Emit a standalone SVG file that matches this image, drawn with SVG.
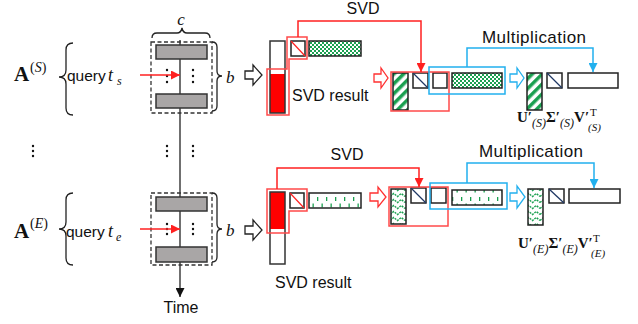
<svg xmlns="http://www.w3.org/2000/svg" width="638" height="324" viewBox="0 0 638 324">
<defs>
<style>
.sans{font-family:"Liberation Sans",Arial,sans-serif;fill:#111}
.serif{font-family:"Liberation Serif","Times New Roman",serif;fill:#111}
.box{fill:#fff;stroke:#222;stroke-width:1.5}
.gray{fill:#a9a6a6;stroke:#333;stroke-width:1.5}
.redl{fill:none;stroke:#ff4a4a;stroke-width:1.5}
.bluel{fill:none;stroke:#22b0ee;stroke-width:1.5}
.redc{fill:none;stroke:#ff2020;stroke-width:1.5}
.bluec{fill:none;stroke:#22b0ee;stroke-width:1.5}
.blk{fill:none;stroke:#222;stroke-width:1.3}
.dot{fill:#111}
.sub{font-size:12px;font-style:italic}
.b{font-weight:bold}
</style>
<pattern id="checker" width="4" height="4" patternUnits="userSpaceOnUse">
<rect width="4" height="4" fill="#fff"/>
<rect width="2" height="2" fill="#1aa050"/>
<rect x="2" y="2" width="2" height="2" fill="#1aa050"/>
</pattern>
<pattern id="stripes" width="7" height="7" patternUnits="userSpaceOnUse" patternTransform="rotate(45)">
<rect width="7" height="7" fill="#fff"/>
<rect width="3.5" height="7" fill="#1aa050"/>
</pattern>
<pattern id="wavy" width="15" height="6" patternUnits="userSpaceOnUse">
<rect width="15" height="6" fill="#fff"/>
<path d="M0,4.5 L3.75,1.5 L7.5,4.5 L11.25,1.5 L15,4.5" fill="none" stroke="#1aa050" stroke-width="1.4" stroke-dasharray="2,1"/>
</pattern>
<pattern id="dashes" width="9" height="15" patternUnits="userSpaceOnUse">
<rect width="9" height="15" fill="#fff"/>
<rect x="2" y="2" width="1.3" height="4" fill="#1aa050"/>
<rect x="6.5" y="8.5" width="1.3" height="4" fill="#1aa050"/>
</pattern>
<marker id="ah" viewBox="0 0 10 10" refX="10" refY="5" markerWidth="9" markerHeight="9" markerUnits="userSpaceOnUse" orient="auto">
<path d="M0,0 L10,5 L0,10 Z" fill="#111"/>
</marker>
<marker id="ahr" viewBox="0 0 10 10" refX="10" refY="5" markerWidth="9" markerHeight="9" markerUnits="userSpaceOnUse" orient="auto">
<path d="M0,0 L10,5 L0,10 Z" fill="#ff2020"/>
</marker>
<marker id="ahb" viewBox="0 0 10 10" refX="10" refY="5" markerWidth="9" markerHeight="9" markerUnits="userSpaceOnUse" orient="auto">
<path d="M0,0 L10,5 L0,10 Z" fill="#22b0ee"/>
</marker>
</defs>

<!-- time axis -->
<g id="timeline">
<line x1="180" y1="40" x2="180" y2="297" stroke="#222" stroke-width="1.3" marker-end="url(#ah)"/>
<text class="sans" x="181" y="313" font-size="16" text-anchor="middle">Time</text>
</g>

<!-- top window -->
<g id="windowS">
<path class="blk" d="M152,38 Q152,33 157,33 H177 Q181,33 182,28 Q183,33 187,33 H205 Q210,33 210,38"/>
<text class="serif" x="181" y="25" font-size="17" font-style="italic" text-anchor="middle">c</text>
<rect class="gray" x="156" y="45" width="51" height="14"/>
<rect class="gray" x="156" y="94" width="51" height="14"/>
<rect x="151" y="42" width="61" height="71" fill="none" stroke="#333" stroke-width="1.3" stroke-dasharray="4,2.5"/>
<path class="blk" d="M212,42 Q217,42 217,47 V71 Q217,76 222,76 Q217,76 217,81 V106 Q217,111 212,111"/>
<text class="serif" x="226" y="83" font-size="17" font-style="italic">b</text>
<circle class="dot" cx="167" cy="70" r="1.2"/><circle class="dot" cx="167" cy="76" r="1.2"/><circle class="dot" cx="167" cy="82" r="1.2"/>
<circle class="dot" cx="193" cy="70" r="1.2"/><circle class="dot" cx="193" cy="76" r="1.2"/><circle class="dot" cx="193" cy="82" r="1.2"/>
</g>

<!-- middle dots -->
<g id="ellipsis">
<circle class="dot" cx="33" cy="146" r="1.2"/><circle class="dot" cx="33" cy="151" r="1.2"/><circle class="dot" cx="33" cy="156" r="1.2"/>
<circle class="dot" cx="167" cy="146" r="1.2"/><circle class="dot" cx="167" cy="151" r="1.2"/><circle class="dot" cx="167" cy="156" r="1.2"/>
<circle class="dot" cx="193" cy="146" r="1.2"/><circle class="dot" cx="193" cy="151" r="1.2"/><circle class="dot" cx="193" cy="156" r="1.2"/>
</g>

<!-- bottom window -->
<g id="windowE">
<rect class="gray" x="156" y="197" width="51" height="14"/>
<rect class="gray" x="156" y="247" width="51" height="15"/>
<rect x="151" y="193" width="61" height="72" fill="none" stroke="#333" stroke-width="1.3" stroke-dasharray="4,2.5"/>
<path class="blk" d="M212,193 Q217,193 217,198 V224 Q217,229 222,229 Q217,229 217,234 V257 Q217,262 212,262"/>
<text class="serif" x="226" y="236" font-size="17" font-style="italic">b</text>
<circle class="dot" cx="167" cy="224" r="1.2"/><circle class="dot" cx="167" cy="229" r="1.2"/><circle class="dot" cx="167" cy="234" r="1.2"/>
<circle class="dot" cx="193" cy="224" r="1.2"/><circle class="dot" cx="193" cy="229" r="1.2"/><circle class="dot" cx="193" cy="234" r="1.2"/>
</g>

<!-- query labels -->
<g id="labelS">
<text class="serif" x="14" y="81" font-size="21" font-weight="bold">A</text>
<text class="serif" x="30" y="72" font-size="14">(<tspan font-style="italic">S</tspan>)</text>
<path class="blk" d="M73,43 Q66,43 66,50 V70 Q66,77 59,77 Q66,77 66,84 V108 Q66,115 73,115"/>
<text class="sans" x="67" y="81" font-size="15.5">query</text>
<text class="serif" x="108" y="81" font-size="18" font-style="italic">t</text>
<text class="serif" x="117" y="85" font-size="12" font-style="italic">s</text>
</g>
<g id="labelE">
<text class="serif" x="14" y="238" font-size="21" font-weight="bold">A</text>
<text class="serif" x="30" y="228" font-size="14">(<tspan font-style="italic">E</tspan>)</text>
<path class="blk" d="M73,193 Q66,193 66,200 V222 Q66,229 59,229 Q66,229 66,236 V258 Q66,265 73,265"/>
<text class="sans" x="66" y="237" font-size="15.5">query</text>
<text class="serif" x="108" y="237" font-size="18" font-style="italic">t</text>
<text class="serif" x="116" y="241" font-size="12" font-style="italic">e</text>
</g>

<!-- SVD result top -->
<g id="svdS">
<rect x="270" y="74" width="15" height="39" fill="#ff0000"/>
<rect x="270" y="41" width="15" height="72" fill="none" stroke="#333" stroke-width="1.5"/>
<rect class="box" x="291" y="41" width="14" height="15"/>
<line x1="291" y1="41" x2="305" y2="56" stroke="#ff2020" stroke-width="1.2"/>
<rect x="309" y="41" width="52" height="15" fill="url(#checker)" stroke="#222" stroke-width="1.5"/>
<polygon class="redl" points="267,69 287,69 287,37 307,37 307,59 289,59 289,115 267,115"/>
<text class="sans" x="292" y="101" font-size="16">SVD result</text>
</g>

<!-- SVD result bottom -->
<g id="svdE">
<rect x="270" y="192" width="15" height="37" fill="#ff0000"/>
<rect x="270" y="192" width="15" height="72" fill="none" stroke="#333" stroke-width="1.5"/>
<rect class="box" x="290" y="193" width="14" height="15"/>
<line x1="290" y1="193" x2="304" y2="208" stroke="#ff2020" stroke-width="1.2"/>
<rect x="309" y="193" width="52" height="15" fill="url(#dashes)" stroke="#222" stroke-width="1.5"/>
<polygon class="redl" points="267,189 307,189 307,211 289,211 289,233 267,233"/>
<text class="sans" x="275" y="288" font-size="16">SVD result</text>
</g>

<!-- block arrows -->
<g id="arrows">
<path d="M245,71 H253 V65 L262,75 L253,85 V79 H245 Z" fill="#fff" stroke="#222" stroke-width="1.3"/>
<path d="M245,226 H253 V220 L262,230 L253,240 V234 H245 Z" fill="#fff" stroke="#222" stroke-width="1.3"/>
<path d="M374,74 H381 V68 L388,78 L381,88 V82 H374 Z" fill="#fff" stroke="#ff3030" stroke-width="1.3"/>
<path d="M370,193 H378 V187 L386,197 L378,207 V201 H370 Z" fill="#fff" stroke="#ff3030" stroke-width="1.3"/>
<path d="M510,74 H517 V68 L524,78 L517,88 V82 H510 Z" fill="#fff" stroke="#22b0ee" stroke-width="1.3"/>
<path d="M510,193 H517 V186 L525,197 L517,208 V201 H510 Z" fill="#fff" stroke="#22b0ee" stroke-width="1.3"/>
</g>

<!-- decomposition top -->
<g id="decompS">
<rect x="393" y="73" width="15" height="37" fill="url(#stripes)" stroke="#222" stroke-width="1.5"/>
<rect class="box" x="413" y="73" width="15" height="15"/>
<line x1="413" y1="73" x2="428" y2="88" stroke="#1f3864" stroke-width="1.3"/>
<rect class="box" x="433" y="73" width="14" height="15"/>
<rect x="452" y="73" width="50" height="15" fill="url(#checker)" stroke="#222" stroke-width="1.5"/>
<rect class="redl" x="391" y="72" width="58" height="39"/>
<rect class="bluel" x="429" y="67" width="76" height="27"/>
</g>

<!-- decomposition bottom -->
<g id="decompE">
<rect x="391" y="189" width="15" height="35" fill="url(#wavy)" stroke="#222" stroke-width="1.5"/>
<rect class="box" x="411" y="188" width="15" height="15"/>
<line x1="411" y1="188" x2="426" y2="203" stroke="#1f3864" stroke-width="1.3"/>
<rect class="box" x="431" y="188" width="15" height="15"/>
<rect x="452" y="190" width="50" height="15" fill="url(#dashes)" stroke="#222" stroke-width="1.5"/>
<rect class="redl" x="389" y="187" width="59" height="39"/>
<rect class="bluel" x="430" y="183" width="77" height="26"/>
</g>

<!-- result top -->
<g id="resultS">
<rect x="527" y="73" width="15" height="37" fill="url(#stripes)" stroke="#222" stroke-width="1.5"/>
<rect class="box" x="547" y="73" width="15" height="15"/>
<line x1="547" y1="73" x2="562" y2="88" stroke="#1f3864" stroke-width="1.3"/>
<rect class="box" x="568" y="73" width="50" height="15"/>
<text class="serif" x="517" y="122" font-size="15"><tspan class="b">U′</tspan><tspan class="sub" dy="5">(S)</tspan><tspan class="b" dy="-5">Σ′</tspan><tspan class="sub" dy="5">(S)</tspan><tspan class="b" dy="-5">V′</tspan></text>
<text class="serif" x="590" y="116" font-size="11">T</text>
<text class="serif" x="588" y="131" font-size="11" font-style="italic">(S)</text>
</g>

<!-- result bottom -->
<g id="resultE">
<rect x="528" y="189" width="15" height="36" fill="url(#wavy)" stroke="#222" stroke-width="1.5"/>
<rect class="box" x="549" y="189" width="15" height="14"/>
<line x1="549" y1="189" x2="564" y2="203" stroke="#1f3864" stroke-width="1.3"/>
<rect class="box" x="569" y="189" width="51" height="14"/>
<text class="serif" x="518" y="248" font-size="15"><tspan class="b">U′</tspan><tspan class="sub" dy="5">(E)</tspan><tspan class="b" dy="-5">Σ′</tspan><tspan class="sub" dy="5">(E)</tspan><tspan class="b" dy="-5">V′</tspan></text>
<text class="serif" x="593" y="242" font-size="11">T</text>
<text class="serif" x="591" y="257" font-size="11" font-style="italic">(E)</text>
</g>

<!-- connectors -->
<g id="connectors">
<line x1="140" y1="75" x2="180" y2="75" stroke="#ff2020" stroke-width="1.5" marker-end="url(#ahr)"/>
<line x1="140" y1="229" x2="180" y2="229" stroke="#ff2020" stroke-width="1.5" marker-end="url(#ahr)"/>
<path class="redc" d="M298,37 V21 H421 V72" marker-end="url(#ahr)"/>
<path class="redc" d="M277,189 V168 H419 V187" marker-end="url(#ahr)"/>
<path class="bluec" d="M467,67 V48 H593 V72" marker-end="url(#ahb)"/>
<path class="bluec" d="M467,183 V163 H594 V188" marker-end="url(#ahb)"/>
<text class="sans" x="363" y="14" font-size="16" text-anchor="middle">SVD</text>
<text class="sans" x="347" y="160" font-size="16" text-anchor="middle">SVD</text>
<text class="sans" x="534" y="43" font-size="17" text-anchor="middle" textLength="104">Multiplication</text>
<text class="sans" x="531" y="157" font-size="17" text-anchor="middle" textLength="104">Multiplication</text>
</g>
</svg>
